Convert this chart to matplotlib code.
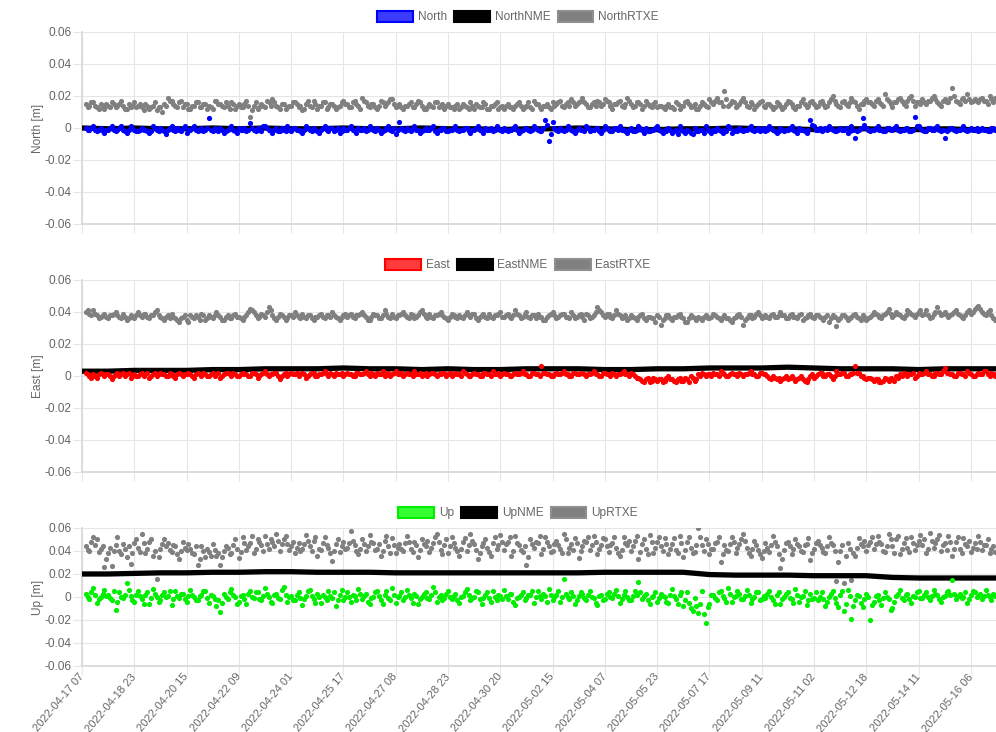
import numpy as np
import matplotlib
matplotlib.use("Agg")
import matplotlib.pyplot as plt
from matplotlib.patches import Patch
from matplotlib.ticker import FixedLocator, FuncFormatter

plt.rcParams["font.family"] = ["Liberation Sans", "DejaVu Sans"]

# x axis (category axis, one label every TICK_STEP samples)
tick_labels = [
    "2022-04-17 07", "2022-04-18 23", "2022-04-20 15", "2022-04-22 09",
    "2022-04-24 01", "2022-04-25 17", "2022-04-27 08", "2022-04-28 23",
    "2022-04-30 20", "2022-05-02 15", "2022-05-04 07", "2022-05-05 23",
    "2022-05-07 17", "2022-05-09 11", "2022-05-11 02", "2022-05-12 18",
    "2022-05-14 11", "2022-05-16 06",
]
TICK_STEP = 28
NME_STEP = 14

# ---- values in mm ----
north_rtxe = [
    15, 13, 14, 16, 16, 14, 13, 12, 15, 14, 12, 15, 14, 13, 16, 15, 13, 14, 15, 17, 14, 12, 12, 15, 13, 14, 16, 13,
    14, 15, 13, 11, 15, 14, 12, 13, 14, 16, 11, 13, 13, 10, 15, 14, 19, 17, 17, 15, 14, 13, 16, 17, 13, 15, 15, 12,
    12, 14, 14, 16, 16, 13, 13, 15, 15, 12, 14, 13, 12, 17, 17, 15, 15, 14, 13, 16, 14, 12, 16, 15, 12, 14, 15, 13,
    13, 15, 17, 14, 7, 11, 14, 16, 12, 13, 15, 14, 13, 17, 16, 14, 18, 16, 14, 13, 12, 15, 15, 12, 13, 14, 14, 16,
    16, 15, 13, 14, 11, 12, 15, 17, 14, 13, 17, 15, 12, 14, 14, 16, 16, 12, 13, 15, 15, 14, 12, 13, 14, 16, 17, 15,
    15, 13, 13, 16, 17, 15, 14, 12, 19, 17, 16, 14, 13, 15, 15, 13, 12, 14, 17, 16, 14, 15, 16, 18, 18, 15, 13, 14,
    15, 13, 12, 14, 14, 15, 16, 13, 13, 15, 17, 16, 14, 12, 12, 13, 15, 14, 13, 16, 16, 13, 14, 15, 12, 14, 15, 13,
    13, 12, 14, 15, 12, 13, 15, 14, 13, 12, 16, 14, 12, 15, 14, 13, 13, 16, 15, 12, 12, 14, 14, 15, 16, 12, 13, 14,
    12, 14, 15, 13, 13, 12, 14, 15, 16, 14, 12, 13, 14, 16, 13, 12, 17, 15, 15, 13, 12, 14, 14, 15, 13, 12, 16, 14,
    15, 16, 17, 14, 13, 15, 16, 14, 18, 16, 14, 15, 16, 17, 19, 16, 15, 13, 13, 15, 16, 14, 17, 16, 14, 15, 18, 17,
    16, 14, 12, 15, 15, 16, 17, 14, 13, 15, 19, 17, 15, 13, 14, 16, 16, 15, 12, 14, 17, 15, 14, 13, 15, 16, 13, 14,
    14, 13, 12, 14, 15, 13, 13, 12, 16, 15, 12, 14, 14, 16, 17, 15, 13, 14, 15, 12, 12, 14, 16, 15, 14, 13, 18, 16,
    15, 17, 19, 16, 16, 14, 23, 18, 14, 15, 17, 16, 13, 14, 15, 17, 19, 16, 14, 13, 16, 15, 12, 14, 15, 16, 17, 14,
    13, 15, 15, 14, 12, 13, 16, 15, 14, 12, 13, 15, 17, 16, 15, 13, 12, 14, 14, 16, 18, 15, 13, 14, 16, 17, 15, 13,
    14, 16, 17, 15, 13, 14, 16, 18, 20, 17, 15, 14, 13, 16, 17, 15, 14, 16, 19, 17, 16, 14, 12, 15, 15, 17, 18, 16,
    16, 15, 14, 17, 18, 16, 15, 14, 21, 18, 17, 15, 13, 16, 16, 18, 19, 17, 15, 14, 17, 19, 20, 17, 14, 16, 16, 15,
    18, 16, 15, 17, 17, 19, 20, 18, 16, 15, 14, 17, 18, 16, 16, 19, 25, 20, 17, 16, 15, 18, 19, 17, 21, 18, 16, 17,
    18, 17, 16, 18, 19, 17, 17, 15, 20, 18, 16, 19, 18, 17,
]
north = [
    0, -1, -1, 0, 1, -1, -2, -1, 0, -2, -3, -1, -1, 0, 1, -1, -2, -1, 0, 1, -1, -2, -3, -1, 1, 0, -1, -2,
    -2, -1, 0, -1, -1, -2, -3, -2, 1, 0, -1, -2, 0, -1, -2, -4, -1, 0, 1, -1, -2, 0, -1, -2, 0, 1, -3, -1,
    -1, 0, 1, -1, -2, -1, 0, -2, -1, 0, 6, -1, -2, 0, -1, -2, 0, -1, -3, -2, -1, 0, 1, -1, -2, -3, 0, -1,
    -1, 0, -2, -1, 3, 0, -1, -2, 0, -1, -2, 1, 1, 0, -1, -2, -3, -1, 0, -2, -2, 0, -1, -2, 1, -1, -2, 0,
    0, -1, -1, -2, -3, -1, 1, 0, -1, -2, 0, -1, -2, -3, -1, 0, 1, -1, -2, 0, 0, -2, -1, 0, -3, -2, 0, -1,
    -1, 0, 1, -1, -2, -3, 0, -1, -1, 0, -2, -1, 1, 0, -1, -2, 0, -1, -3, -2, -1, 0, 1, -1, -2, 0, -4, -1,
    4, 0, -1, -2, 0, -1, -2, 0, 1, -1, -1, -3, -2, -1, 0, -1, -1, 0, 1, -2, -3, -1, -1, 0, 0, -2, -2, -1,
    -1, 0, 1, -1, -2, -1, -1, 0, 0, -2, -3, -1, -1, 0, 1, -1, -2, -3, 0, -1, -1, 0, -2, -1, 1, 0, -1, -2,
    0, -1, -2, -1, -1, 0, 1, -1, -3, -2, -1, 0, 0, -1, -2, -1, 1, 0, -1, -2, -2, 0, 5, 2, -8, -4, 4, 0,
    -1, -2, 0, -1, -2, -1, 1, 0, -1, -2, -3, -1, 0, -1, -1, -2, 1, 0, -2, -1, -1, 0, 0, -2, -3, -1, 1, 0,
    -1, -2, -2, 0, 0, -1, 1, -1, -1, -2, -3, -1, 0, -2, -2, -1, 1, 0, -1, -3, 0, -2, -2, -1, -1, 0, 1, -1,
    -2, -3, -1, -2, 0, -1, -3, -2, -1, -4, 1, -1, -2, -3, -1, -2, -3, -4, 0, -2, -2, -1, -1, -3, 1, -1, -2, -3,
    -1, -2, 0, -1, -2, -3, -1, -2, 1, 0, -3, -2, -1, -2, 0, -1, -2, -1, -1, 0, 1, -1, -2, -1, 0, -2, -1, 0,
    -2, -1, 1, 0, -1, -2, -3, -2, 0, -1, -2, -1, -1, 0, 1, -1, -2, -3, 0, -1, -1, -2, -3, -1, 5, 2, 1, -1,
    -1, 0, -2, -1, 0, -1, 1, 0, -1, -2, -2, -1, 0, -1, -1, 0, -3, -2, 1, -1, -6, -2, -1, 0, 6, 2, 0, -1,
    -2, -1, -1, 0, 1, -1, -1, -2, -2, 0, 0, -1, -1, 0, 1, -1, -2, -1, -1, 0, 0, -2, -2, -1, 7, 1, 1, 0,
    -1, -2, -2, 0, 0, -1, -1, 0, 1, -1, -2, -1, -6, -2, -1, 0, 0, -1, -2, -1, -1, 0, 1, -1, -2, -1, 0, -1,
    -1, 0, -2, -1, 0, -1, -1, -2, -2, 0, 0, -1, -1, 0,
]
north_nme = [
    0, -0.5, 0, -0.5, -0.5, 0, -0.5, 0, -0.5, -0.5, 0, -0.5,
    -0.5, 0, -0.5, -0.5, -1, -0.5, -0.5, 0, -0.5, -1, -1, -0.5,
    -0.5, 0, -0.5, -0.5, -1, -0.5, -0.5, -1, -1, -0.5, -1, -1,
]

east_rtxe = [
    40, 41, 39, 38, 41, 39, 38, 36, 37, 38, 39, 37, 36, 38, 38, 39, 40, 38, 37, 36, 39, 37, 35, 36, 38, 37, 36, 38,
    40, 38, 37, 39, 39, 37, 36, 38, 38, 40, 41, 38, 37, 36, 35, 37, 38, 36, 39, 37, 36, 35, 34, 36, 37, 38, 35, 34,
    38, 37, 36, 38, 37, 35, 39, 38, 35, 36, 38, 37, 36, 38, 40, 38, 37, 35, 35, 37, 38, 36, 36, 38, 39, 37, 37, 36,
    35, 37, 38, 40, 42, 41, 40, 38, 36, 37, 39, 38, 37, 40, 43, 41, 38, 36, 35, 37, 39, 38, 37, 35, 36, 38, 38, 37,
    40, 38, 37, 36, 39, 37, 36, 38, 38, 36, 35, 37, 37, 38, 39, 37, 36, 38, 38, 37, 40, 38, 37, 36, 35, 37, 38, 39,
    37, 38, 39, 37, 36, 38, 38, 39, 40, 38, 37, 35, 35, 37, 39, 38, 38, 36, 36, 38, 41, 39, 37, 36, 39, 37, 36, 38,
    38, 39, 40, 38, 37, 36, 39, 38, 36, 37, 38, 40, 41, 39, 37, 36, 39, 37, 36, 38, 38, 39, 40, 38, 37, 36, 35, 37,
    39, 38, 37, 36, 38, 37, 36, 38, 40, 38, 37, 39, 39, 36, 35, 37, 38, 39, 37, 36, 39, 37, 36, 38, 38, 39, 40, 37,
    37, 38, 39, 37, 36, 38, 41, 39, 38, 36, 37, 39, 40, 37, 36, 38, 38, 36, 39, 37, 37, 35, 35, 37, 38, 39, 40, 38,
    36, 37, 38, 39, 39, 37, 37, 36, 40, 38, 36, 37, 38, 39, 37, 35, 39, 38, 36, 37, 38, 40, 43, 41, 40, 38, 37, 39,
    39, 37, 36, 38, 41, 39, 38, 36, 37, 38, 35, 36, 38, 37, 36, 35, 37, 38, 39, 36, 35, 37, 37, 36, 36, 34, 38, 37,
    32, 35, 36, 38, 38, 36, 35, 37, 37, 38, 39, 37, 36, 34, 34, 36, 38, 37, 36, 35, 37, 36, 35, 37, 38, 36, 36, 37,
    39, 38, 37, 36, 35, 37, 38, 36, 36, 35, 34, 36, 37, 38, 39, 37, 32, 35, 36, 38, 38, 36, 37, 39, 40, 38, 36, 37,
    38, 37, 36, 38, 39, 37, 37, 38, 40, 38, 38, 36, 36, 38, 39, 37, 37, 36, 38, 39, 35, 36, 37, 38, 39, 37, 36, 38,
    38, 37, 36, 35, 37, 38, 34, 36, 38, 37, 31, 35, 36, 38, 38, 37, 35, 36, 37, 38, 39, 37, 36, 35, 38, 37, 35, 36,
    37, 38, 40, 39, 38, 37, 36, 38, 39, 40, 42, 39, 37, 38, 40, 39, 38, 37, 36, 38, 41, 40, 39, 38, 37, 39, 40, 41,
    38, 39, 41, 38, 36, 37, 39, 40, 43, 40, 38, 39, 40, 38, 37, 38, 39, 40, 41, 39, 38, 37, 36, 38, 40, 41, 39, 40,
    42, 43, 44, 42, 40, 39, 38, 40, 41, 38, 36, 35, 35, 36,
]
east = [
    2, 1, 0, -1, 1, 0, -1, 1, 2, 1, 0, 1, 1, 0, -2, 0, 1, 2, 0, 1, 2, 0, 1, 2, -1, 0, 1, 0,
    0, 1, 2, 0, 1, 2, -1, 0, 1, 2, 0, 1, 2, 1, 1, 0, 0, 2, 1, 0, -1, 1, 2, 1, 0, 1, 1, 2,
    1, 0, -1, 1, 2, 1, 0, 2, 1, 0, 0, 1, 2, 0, 1, 2, -1, 0, 1, 2, 2, 1, 0, 2, 1, 0, 0, 1,
    2, 1, 1, 0, 0, 2, 2, 1, -1, 0, 1, 2, 3, 1, 0, 1, 1, 2, 2, 0, -2, 0, 1, 2, 0, 1, 2, 1,
    1, 2, 0, 1, 2, 1, -1, 0, 1, 2, 2, 0, 0, 1, 1, 2, 3, 1, 0, 2, 1, 0, 2, 1, 1, 2, 0, 1,
    2, 1, 1, 0, 0, 2, 2, 1, 1, 2, 3, 1, 0, 2, 1, 0, 2, 1, 1, 3, 0, 1, 2, 0, 1, 2, 3, 1,
    1, 2, 0, 1, 2, 1, 1, 0, 3, 1, 1, 2, 0, 1, 2, 0, 1, 2, 2, 1, 0, 1, 1, 2, 2, 0, 1, 2,
    0, 1, 2, 1, 1, 0, 3, 2, 1, 0, 0, 1, 2, 1, 1, 0, 0, 2, 2, 1, 1, 0, 3, 1, 1, 2, 0, 1,
    2, 1, 1, 0, 0, 1, 2, 1, 1, 2, 3, 1, 1, 0, 0, 2, 2, 1, 1, 0, 6, 2, 2, 1, 1, 0, 0, 1,
    2, 1, 1, 2, 3, 1, 1, 0, 0, 2, 2, 1, 1, 2, 2, 1, 0, 1, 1, 2, 3, 1, 1, 0, 0, 2, 2, 1,
    1, 0, 2, 1, 0, 1, 1, 2, 3, 1, 1, 0, 2, 1, 0, -1, -1, -2, -3, -4, -2, -1, -4, -3, -1, -2, -3, -2,
    -2, -4, -3, -1, 0, -2, -2, -3, -4, -2, -1, -3, -3, -1, -2, -4, 0, -1, -3, -2, 1, 0, 2, 1, 0, 1, 1, 0,
    2, 1, 1, 0, 3, 2, 1, 0, 0, 1, 2, 1, 1, 0, 2, 1, 0, 1, 1, 2, 3, 1, 1, 0, 0, 2, 2, 1,
    1, 0, -1, -2, 0, -1, -2, -1, -3, -2, -1, 0, -2, -1, 0, -1, -3, -2, -1, 0, -2, -3, -4, -2, 0, 1, -1, 0,
    1, 2, 2, 0, 0, 1, 1, 0, -2, 0, 3, 1, 1, 2, 2, 0, 0, 1, 1, 2, 6, 2, 2, 0, 0, -1, -2, -1,
    -1, -2, -3, -2, -2, -4, -4, -3, -1, -2, -3, -1, -2, -3, 0, -1, 1, 0, 2, 1, 0, 1, 1, 2, -1, 0, 2, 1,
    1, 2, 3, 1, 1, 0, 0, 2, 2, 1, 1, 3, 5, 2, 2, 1, 1, 0, 0, 2, 2, 1, 1, 0, 3, 2, 1, 0,
    0, 1, 2, 1, 1, 3, 3, 1, 0, 2, 1, 0, 2, 1,
]
east_nme = [
    3, 3, 3.5, 3.5, 3.5, 4, 4, 4.5, 4.5, 4.5, 5, 4.5,
    4.5, 4, 4.5, 4, 4, 4.5, 4.5, 4.5, 4, 4, 4.5, 4.5,
    5, 5, 5, 5.5, 5, 4.5, 4.5, 4.5, 4, 4.5, 4.5, 4.5,
]

up_rtxe = [
    44, 41, 40, 48, 52, 45, 50, 39, 42, 44, 26, 33, 38, 43, 27, 40, 45, 52, 40, 37, 46, 42, 35, 44, 29, 38, 47, 50,
    43, 39, 55, 47, 38, 42, 48, 50, 36, 40, 16, 35, 42, 46, 50, 44, 47, 41, 39, 45, 44, 37, 33, 40, 48, 43, 41, 46,
    42, 38, 37, 44, 28, 33, 44, 40, 35, 42, 39, 36, 46, 41, 36, 38, 28, 35, 40, 44, 43, 37, 38, 45, 50, 42, 34, 39,
    52, 47, 41, 44, 47, 53, 38, 42, 50, 48, 45, 40, 53, 46, 42, 50, 48, 44, 55, 49, 40, 46, 50, 53, 46, 41, 44, 48,
    38, 43, 47, 40, 42, 46, 54, 49, 44, 40, 49, 52, 36, 42, 41, 47, 52, 45, 43, 38, 31, 40, 46, 50, 39, 44, 48, 42,
    43, 47, 57, 49, 45, 40, 37, 42, 50, 46, 40, 44, 54, 48, 47, 41, 42, 46, 36, 40, 49, 53, 44, 38, 51, 45, 38, 43,
    46, 42, 40, 47, 53, 48, 42, 39, 48, 45, 35, 41, 50, 46, 44, 49, 39, 43, 47, 52, 55, 48, 41, 37, 45, 50, 38, 44,
    52, 47, 43, 40, 36, 42, 48, 51, 40, 45, 55, 49, 46, 41, 33, 38, 44, 47, 50, 43, 39, 36, 47, 52, 42, 45, 54, 48,
    41, 46, 48, 52, 36, 40, 53, 47, 45, 41, 39, 44, 28, 35, 50, 46, 43, 48, 47, 53, 37, 42, 52, 48, 44, 39, 40, 46,
    49, 45, 42, 38, 55, 50, 38, 43, 46, 41, 51, 47, 34, 40, 44, 49, 48, 52, 41, 45, 53, 48, 37, 42, 45, 51, 50, 44,
    39, 45, 47, 52, 43, 38, 36, 41, 52, 47, 45, 49, 40, 44, 49, 53, 33, 39, 46, 50, 42, 37, 54, 48, 38, 43, 48, 52,
    44, 40, 51, 46, 37, 42, 46, 51, 41, 38, 53, 47, 35, 41, 48, 52, 43, 38, 39, 45, 60, 52, 45, 40, 50, 46, 37, 42,
    42, 47, 48, 52, 30, 37, 45, 41, 40, 46, 52, 48, 38, 43, 46, 50, 55, 49, 43, 38, 36, 42, 49, 45, 41, 37, 34, 40,
    47, 43, 39, 45, 53, 48, 44, 37, 25, 33, 41, 47, 48, 44, 37, 42, 50, 46, 44, 40, 39, 45, 46, 51, 32, 38, 42, 47,
    49, 45, 43, 39, 38, 44, 52, 47, 45, 40, 14, 30, 40, 45, 12, 36, 47, 42, 15, 38, 36, 43, 51, 46, 44, 49, 40, 45,
    48, 52, 42, 46, 53, 48, 46, 40, 39, 44, 55, 50, 44, 38, 50, 53, 37, 42, 47, 51, 43, 39, 52, 47, 41, 45, 49, 54,
    45, 50, 38, 42, 56, 49, 43, 47, 50, 54, 40, 45, 47, 41, 53, 48, 36, 42, 48, 52, 42, 38, 51, 46, 44, 49, 39, 43,
    47, 42, 53, 48, 41, 45, 45, 50, 38, 42, 44, 39, 40, 46,
]
up = [
    3, 0, -2, 4, 8, 2, -5, -2, 0, 3, 6, 1, 2, -1, -3, 5, -11, -4, 4, 0, -1, 2, 12, 6, 1, -3, -4, 2,
    5, 1, -2, -6, 2, 4, -6, -1, 7, 3, 0, -4, -3, 2, 4, 0, 1, 5, -7, -2, 5, 1, -1, 3, 3, -2, -4, 1,
    6, 2, 0, -3, -3, 1, 2, 5, 5, -1, -5, 2, 1, -2, -8, -3, -13, -5, 3, 0, -2, 4, 7, 2, 0, -6, -4, 1,
    2, -2, -6, 3, 5, 0, -1, 4, 4, -2, -3, 1, 8, 3, 0, -4, -5, 2, 3, -1, -2, 6, 9, 2, -4, 0, 1, -3,
    -3, 2, 4, -1, -7, -2, 1, 5, 6, 1, -2, -5, 3, 0, -5, 2, 0, -3, 5, 1, -1, 4, -8, -3, 2, 6, -3, 0,
    4, 0, -4, 2, 1, -3, 7, 3, -2, 1, 3, -4, -6, -1, 0, 4, 5, 1, -3, -6, 2, 5, -1, -3, 8, 2, -5, 0,
    1, 4, -3, 0, 6, 2, -1, -5, 3, 1, -6, -2, 0, 3, 4, -1, -2, 2, 9, 4, -4, 0, 2, -3, -1, 3, 5, 0,
    -2, 1, 3, -3, -5, 0, 1, 4, 7, 2, -3, -1, 0, 5, 4, -2, -6, -1, 2, 4, -1, -4, 5, 0, -3, 2, 1, -2,
    6, 1, -2, 3, 3, -4, -7, -1, 0, 2, 4, -3, -1, 2, 2, 5, -5, 0, 5, 1, -2, 3, 1, -4, 7, 2, -3, 0,
    2, 5, -4, 0, 16, 3, 0, -2, 4, 1, -6, -3, 1, 4, 3, -1, -3, 2, 5, 0, -1, -5, -7, 1, 2, -3, -2, 3,
    4, 0, -1, 3, 6, 1, -5, -2, 2, 5, 0, -3, -3, 1, 5, 2, 13, 4, -2, 1, 3, -3, -6, 0, 1, 4, -4, -1,
    3, 1, 0, -4, -5, 2, 7, 1, -2, -6, 2, 4, -8, -3, 4, -5, -10, -12, -1, -8, -14, -6, 5, -15, -23, -9, -6, 2,
    2, -1, -3, 4, 5, 1, -1, -4, 8, 3, -4, 0, 1, 5, 3, -2, -2, 1, 6, 2, -5, -2, 0, 4, 4, -3, -2, 1,
    -1, 3, 5, 0, -3, -6, 2, 4, -6, -2, 0, 3, 4, -1, -2, -5, 7, 2, -4, 0, 1, 5, -7, -3, 3, -2, -1, 4,
    -3, 0, 4, -2, -8, -4, 0, 3, 5, -1, -5, -9, 2, 5, -12, -6, 6, 1, -19, -8, -3, 2, 1, -5, -9, -2, 3, 0,
    -20, -7, -4, 1, 2, -3, -7, -1, 4, 0, -2, -11, -10, -4, 1, 3, 6, -1, -3, 2, 3, -2, -5, 1, 0, 4, 5, -1,
    -1, 2, 4, 0, -3, 1, 6, 3, 2, -2, -4, 0, 1, 4, 5, 2, 15, 3, -2, 1, 3, -1, 0, 4, -5, -2, 2, 5,
    4, 0, 1, 3, -2, 1, 6, 2, 0, -3, 3, 1, 2, 4,
]
up_nme = [
    20, 20, 20.5, 21, 21, 21.5, 21.5, 22, 22, 21.5, 21.5, 21.5,
    21, 21, 21, 21, 21, 21, 21, 21, 21.5, 21.5, 21.5, 21.5,
    19.5, 19, 19, 19, 18.5, 18.5, 18.5, 17, 16.5, 16.5, 16.5, 16.5,
]

TEXT = "#666666"
GRID = "#e6e6e6"
X_MAX = 17.48 * TICK_STEP


def fmt_y(v, pos):
    if abs(v) < 1e-9:
        return "0"
    return "%.2f" % v


def draw_panel(fig, rect, main, nme, rtxe, color, face, names, ylabel, legend_y, show_x):
    ax = fig.add_axes(rect)
    mm = 0.001
    ax.scatter(np.arange(len(rtxe)) + 2, np.array(rtxe) * mm, s=14, color="#808080",
               linewidths=0, zorder=2)
    ax.plot(np.arange(len(nme)) * NME_STEP, np.array(nme) * mm, color="black", lw=3.8,
            solid_capstyle="butt", zorder=3)
    ax.scatter(np.arange(len(main)) + 2, np.array(main) * mm, s=14, color=color,
               linewidths=0, zorder=4)

    ax.set_xlim(0, X_MAX)
    ax.set_ylim(-0.06, 0.06)
    ax.yaxis.set_major_locator(FixedLocator(np.linspace(-0.06, 0.06, 7)))
    ax.yaxis.set_major_formatter(FuncFormatter(fmt_y))
    ticks = np.arange(len(tick_labels)) * TICK_STEP
    ax.set_xticks(ticks)
    if show_x:
        ax.set_xticklabels(tick_labels, rotation=50, ha="right", va="center",
                           rotation_mode="anchor", fontsize=8.0)
    else:
        ax.set_xticklabels([])

    ax.grid(True, color=GRID, lw=0.8)
    ax.set_axisbelow(True)
    ax.tick_params(axis="both", colors=GRID, labelcolor=TEXT, length=6.5, width=0.8)
    ax.tick_params(axis="y", pad=1, labelsize=8.6)
    ax.tick_params(axis="x", pad=0)
    for side in ("top", "right"):
        ax.spines[side].set_visible(False)
    for side in ("left", "bottom"):
        ax.spines[side].set_color("#d9d9d9")
        ax.spines[side].set_linewidth(1.3)
    ax.set_ylabel(ylabel, color=TEXT, fontsize=8.6)
    ax.yaxis.set_label_coords(-0.041, 0.5)

    handles = [
        Patch(facecolor=face, edgecolor=color, lw=1.5),
        Patch(facecolor="black", edgecolor="black", lw=1.5),
        Patch(facecolor="#808080", edgecolor="#8f8f8f", lw=1.5),
    ]
    fig.legend(handles, names, loc="center", bbox_to_anchor=(0.52, legend_y), ncol=3,
               frameon=False, handlelength=3.0, handleheight=1.1, handletextpad=0.4,
               columnspacing=0.6, fontsize=8.6, labelcolor=TEXT)
    return ax


fig = plt.figure(figsize=(9.96, 7.32), dpi=100)
draw_panel(fig, [0.0823, 0.6940, 0.9177, 0.2623], north, north_nme, north_rtxe,
           "#0000ff", "#3b3bff", ["North", "NorthNME", "NorthRTXE"], "North [m]",
           1 - 17 / 732, False)
draw_panel(fig, [0.0823, 0.3552, 0.9177, 0.2623], east, east_nme, east_rtxe,
           "#ff0000", "#ff3b3b", ["East", "EastNME", "EastRTXE"], "East [m]",
           1 - 265 / 732, False)
draw_panel(fig, [0.0823, 0.0902, 0.9177, 0.1885], up, up_nme, up_rtxe,
           "#00ee00", "#33ff33", ["Up", "UpNME", "UpRTXE"], "Up [m]",
           1 - 513 / 732, True)

fig.savefig("out.png", dpi=100)
